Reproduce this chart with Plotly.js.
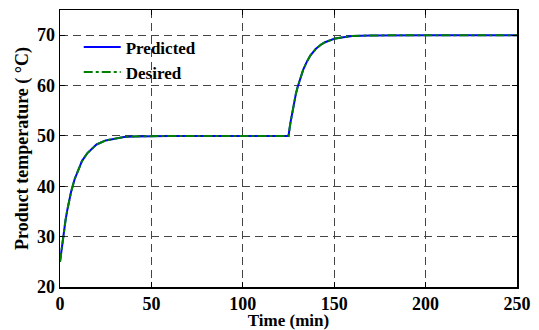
<!DOCTYPE html>
<html><head><meta charset="utf-8">
<script src="https://cdn.plot.ly/plotly-3.0.1.min.js"></script>
<style>html,body{margin:0;padding:0;background:#fff}#chart{width:539px;height:330px}</style>
</head><body><div id="chart"></div>
<script>
const timeMin = [0,1,2,3,4,5,6,8,10,12,15,18,20,25,30,35,40,50,60,80,100,120,125,126,127,128,129,130,131,133,135,137,140,143,145,150,155,160,170,180,200,250];
const predicted = [25,28.1,30.9,33.2,35.3,37.2,38.8,41.4,43.4,45.0,46.6,47.7,48.3,49.1,49.5,49.8,49.9,50,50,50,50,50,50,52.5,54.7,56.6,58.3,59.7,61.0,63.1,64.7,66.0,67.3,68.2,68.6,69.3,69.6,69.85,69.95,70,70,70];
const desired = [25,28.1,30.9,33.2,35.3,37.2,38.8,41.4,43.4,45.0,46.6,47.7,48.3,49.1,49.5,49.8,49.9,50,50,50,50,50,50,52.5,54.7,56.6,58.3,59.7,61.0,63.1,64.7,66.0,67.3,68.2,68.6,69.3,69.6,69.85,69.95,70,70,70];
const xTicks = [0,50,100,150,200,250];
const yTicks = [20,30,40,50,60,70];

const font = {family:'"Liberation Serif", "Times New Roman", serif', color:'#000'};
const traces = [
  {x:timeMin, y:predicted, name:'<b>Predicted</b>', mode:'lines', line:{color:'#0000ff', width:2}},
  {x:timeMin, y:desired, name:'<b>Desired</b>', mode:'lines', line:{color:'#008000', width:2, dash:'dashdot'}}
];
const axisCommon = {
  showline:true, linecolor:'#000', linewidth:1.5, mirror:'ticks',
  ticks:'inside', ticklen:5, tickcolor:'#000',
  showgrid:true, gridcolor:'#444', griddash:'8px,5px', gridwidth:1,
  zeroline:false, tickfont:Object.assign({size:18}, font)
};
const layout = {
  width:539, height:330,
  margin:{l:60, r:22, t:10, b:43},
  paper_bgcolor:'#fff', plot_bgcolor:'#fff',
  font:font,
  showlegend:true,
  legend:{x:0.041, y:0.93, xanchor:'left', yanchor:'top', bgcolor:'rgba(255,255,255,0)', borderwidth:0, font:Object.assign({size:17}, font), tracegroupgap:0, itemwidth:37},
  xaxis:Object.assign({}, axisCommon, {range:[0,250], tickvals:xTicks, ticktext:xTicks.map(v=>'<b>'+v+'</b>'),
    title:{text:'<b>Time (min)</b>', font:Object.assign({size:17}, font), standoff:0}}),
  yaxis:Object.assign({}, axisCommon, {range:[20,75], tickvals:yTicks, ticktext:yTicks.map(v=>'<b>'+v+'</b>'),
    title:{text:'<b>Product temperature ( °C)</b>', font:Object.assign({size:18}, font), standoff:3}})
};
Plotly.newPlot('chart', traces, layout, {displayModeBar:false, staticPlot:true});
</script></body></html>
